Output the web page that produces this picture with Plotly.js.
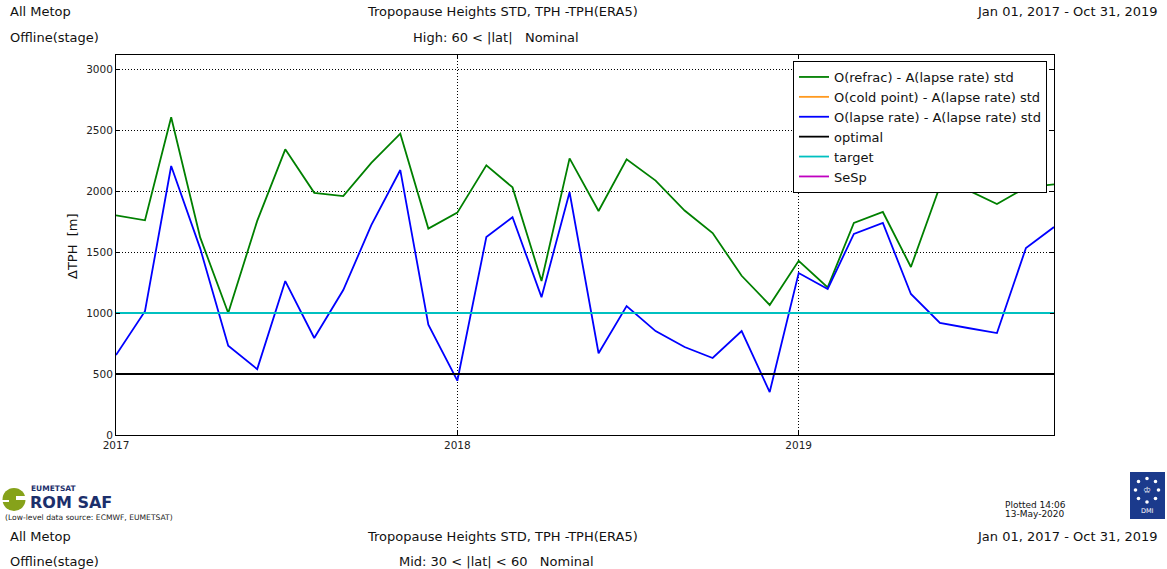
<!DOCTYPE html>
<html>
<head>
<meta charset="utf-8">
<script src="https://cdn.plot.ly/plotly-3.0.1.min.js"></script>
<style>html,body{margin:0;padding:0;background:#fff;}#chart{width:1167px;height:569px;}</style>
</head>
<body>
<div id="chart"></div>
<script>
// ---- data ----
const months = ["2017-01-01","2017-02-01","2017-03-01","2017-04-01","2017-05-01","2017-06-01","2017-07-01","2017-08-01","2017-09-01","2017-10-01","2017-11-01","2017-12-01",
                "2018-01-01","2018-02-01","2018-03-01","2018-04-01","2018-05-01","2018-06-01","2018-07-01","2018-08-01","2018-09-01","2018-10-01","2018-11-01","2018-12-01",
                "2019-01-01","2019-02-01","2019-03-01","2019-04-01","2019-05-01","2019-06-01","2019-07-01","2019-08-01","2019-09-01","2019-10-01"];
const refracStd = [1800,1760,2605,1620,1000,1755,2342,1985,1958,2230,2470,1692,
                   1823,2210,2030,1262,2268,1836,2260,2085,1840,1655,1305,1066,
                   1428,1210,1738,1828,1377,2040,2007,1893,2030,2055];
const coldPointStd = [null];   // no data in this plot
const lapseStd = [655,1015,2205,1530,732,540,1262,795,1188,1720,2172,905,
                  445,1622,1785,1130,1990,670,1057,852,721,631,852,352,
                  1328,1197,1648,1738,1156,918,877,836,1533,1705];
const sespStd = [null];        // no data in this plot
const optimalLevel = 500;
const targetLevel = 1000;
const seriesNames = ["O(refrac) - A(lapse rate) std","O(cold point) - A(lapse rate) std","O(lapse rate) - A(lapse rate) std","optimal","target","SeSp"];
const yTicks = [0,500,1000,1500,2000,2500,3000];
const xTickVals = ["2017-01-01","2018-01-01","2019-01-01"];
const xTickText = ["2017","2018","2019"];

// ---- layout helpers (pixel -> paper) ----
const PL = 116, PR = 1054, PT = 55, PB = 435;
const fx = px => (px - PL) / (PR - PL);
const fy = py => (PB - py) / (PB - PT);
const FONT = "DejaVu Sans, sans-serif";

function ann(text, x, y, xanchor, size, extra) {
  return Object.assign({
    text: text, xref: "paper", yref: "paper", x: fx(x), y: fy(y),
    xanchor: xanchor, yanchor: "middle", showarrow: false,
    font: {family: FONT, size: size, color: "#111"}
  }, extra || {});
}

const traces = [
  {x: months, y: refracStd, name: seriesNames[0], type: "scatter", mode: "lines", line: {color: "#008000", width: 1.8}},
  {x: [months[0]], y: coldPointStd, name: seriesNames[1], type: "scatter", mode: "lines", line: {color: "#ff9a1f", width: 1.8}},
  {x: months, y: lapseStd, name: seriesNames[2], type: "scatter", mode: "lines", line: {color: "#0000ff", width: 1.8}},
  {x: months, y: months.map(() => optimalLevel), name: seriesNames[3], type: "scatter", mode: "lines", line: {color: "#000000", width: 1.8}},
  {x: months, y: months.map(() => targetLevel), name: seriesNames[4], type: "scatter", mode: "lines", line: {color: "#00c0c0", width: 1.8}},
  {x: [months[0]], y: sespStd, name: seriesNames[5], type: "scatter", mode: "lines", line: {color: "#c000c0", width: 1.8}}
];

const annotations = [
  ann("All Metop", 8, 12, "left", 13),
  ann("Offline(stage)", 8, 37, "left", 13),
  ann("Tropopause Heights STD, TPH -TPH(ERA5)", 502, 12, "center", 13),
  ann("High: 60 < |lat|   Nominal", 496, 37, "center", 13),
  ann("Jan 01, 2017 - Oct 31, 2019", 1160, 12, "right", 13),
  ann("All Metop", 8, 536, "left", 13),
  ann("Offline(stage)", 8, 561, "left", 13),
  ann("Tropopause Heights STD, TPH -TPH(ERA5)", 502, 536, "center", 13),
  ann("Mid: 30 < |lat| < 60   Nominal", 496, 561, "center", 13),
  ann("Jan 01, 2017 - Oct 31, 2019", 1160, 536, "right", 13),
  ann("ΔTPH  [m]", 72, 246, "center", 13, {textangle: -90}),
  ann("Plotted 14:06", 1035, 505, "center", 9),
  ann("13-May-2020", 1035, 514, "center", 9),
  ann("EUMETSAT", 29, 488.5, "left", 8, {font: {family: FONT, size: 7.5, color: "#1c2f6b", weight: "bold"}}),
  ann("ROM SAF", 28, 502, "left", 16, {font: {family: FONT, size: 16, color: "#1c2f6b", weight: "bold"}}),
  ann("(Low-level data source: ECMWF, EUMETSAT)", 3, 517, "left", 7.5, {font: {family: FONT, size: 7.6, color: "#222"}}),
  ann("♔", 1147, 490, "center", 9, {font: {family: FONT, size: 9, color: "#ffffff"}}),
  ann("DMI", 1147, 511, "center", 6.5, {font: {family: FONT, size: 6.5, color: "#ffffff"}})
];

function rect(x0, y0, x1, y1, color) {
  return {type: "rect", xref: "paper", yref: "paper", x0: fx(x0), x1: fx(x1), y0: fy(y0), y1: fy(y1),
          fillcolor: color, line: {width: 0}, layer: "above"};
}
function circ(cx, cy, r, color) {
  return {type: "circle", xref: "paper", yref: "paper", x0: fx(cx - r), x1: fx(cx + r), y0: fy(cy + r), y1: fy(cy - r),
          fillcolor: color, line: {width: 0}, layer: "above"};
}
const shapes = [
  // ROM SAF emblem
  circ(14, 499.5, 11.5, "#86a21a"),
  rect(16, 496, 28, 500, "#ffffff"),
  rect(2, 500, 9, 502, "#ffffff"),
  // DMI logo
  rect(1130, 472, 1165, 519, "#1b3a8c"),
  circ(1147, 478.5, 1.8, "#ffffff"),
  circ(1138.5, 481.5, 1.8, "#ffffff"),
  circ(1155.5, 481.5, 1.8, "#ffffff"),
  circ(1135.5, 490, 1.8, "#ffffff"),
  circ(1158.5, 490, 1.8, "#ffffff"),
  circ(1138.5, 498.5, 1.8, "#ffffff"),
  circ(1155.5, 498.5, 1.8, "#ffffff"),
  circ(1147, 502, 1.8, "#ffffff")
];

const axisCommon = {
  showline: true, linecolor: "#000", linewidth: 1, mirror: "ticks",
  ticks: "inside", ticklen: 4, tickcolor: "#000",
  showgrid: true, gridcolor: "#000", gridwidth: 1, griddash: "1px,2px",
  zeroline: false, tickfont: {family: FONT, size: 10.5, color: "#222"},
  layer: "above traces"
};

const layout = {
  width: 1167, height: 569,
  margin: {l: PL, r: 1167 - PR, t: PT, b: 569 - PB, pad: 0},
  paper_bgcolor: "#fff", plot_bgcolor: "#fff",
  showlegend: true,
  legend: {x: fx(793), y: fy(61), xanchor: "left", yanchor: "top",
           bgcolor: "#fff", bordercolor: "#000", borderwidth: 1,
           font: {family: FONT, size: 13, color: "#111"}, tracegroupgap: 0},
  xaxis: Object.assign({}, axisCommon, {
    type: "date", range: ["2017-01-01", "2019-10-01"],
    tickvals: xTickVals, ticktext: xTickText
  }),
  yaxis: Object.assign({}, axisCommon, {
    range: [0, 3115], tickvals: yTicks, ticktext: yTicks.map(String)
  }),
  annotations: annotations,
  shapes: shapes
};

Plotly.newPlot("chart", traces, layout, {displayModeBar: false, staticPlot: true});
</script>
</body>
</html>
